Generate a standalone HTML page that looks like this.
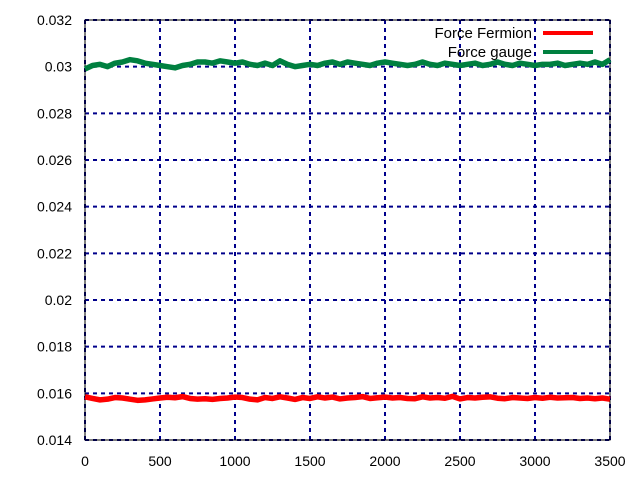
<!DOCTYPE html>
<html><head><meta charset="utf-8"><style>
body{margin:0;background:#fff;}
svg{display:block;font-family:"Liberation Sans",sans-serif;}
</style></head><body>
<svg id="chart" width="640" height="480" viewBox="0 0 640 480"></svg>
<script>
const xTicks=[0,500,1000,1500,2000,2500,3000,3500];
const yTicks=[0.014,0.016,0.018,0.02,0.022,0.024,0.026,0.028,0.03,0.032];
const yTickLabels=["0.014","0.016","0.018","0.02","0.022","0.024","0.026","0.028","0.03","0.032"];
const seriesNames=["Force Fermion","Force gauge"];
const step=50;
const fermion=[0.01585,0.01578,0.01572,0.01575,0.01582,0.01580,0.01575,0.01570,0.01572,0.01576,0.01580,0.01583,0.01581,0.01586,0.01578,0.01575,0.01577,0.01574,0.01578,0.01580,0.01584,0.01582,0.01575,0.01572,0.01582,0.01578,0.01585,0.01580,0.01574,0.01582,0.01578,0.01585,0.01580,0.01584,0.01576,0.01580,0.01582,0.01586,0.01578,0.01581,0.01584,0.01580,0.01582,0.01578,0.01577,0.01585,0.01580,0.01582,0.01579,0.01587,0.01576,0.01582,0.01580,0.01583,0.01585,0.01579,0.01577,0.01582,0.01580,0.01578,0.01582,0.01579,0.01583,0.01580,0.01581,0.01582,0.01578,0.01580,0.01577,0.01580,0.01575];
const gauge=[0.02990,0.03005,0.03010,0.03000,0.03015,0.03020,0.03030,0.03025,0.03015,0.03010,0.03005,0.03000,0.02995,0.03005,0.03010,0.03020,0.03020,0.03015,0.03025,0.03020,0.03015,0.03020,0.03010,0.03005,0.03015,0.03005,0.03025,0.03010,0.03000,0.03005,0.03010,0.03005,0.03015,0.03020,0.03010,0.03020,0.03015,0.03010,0.03005,0.03015,0.03020,0.03015,0.03010,0.03005,0.03010,0.03020,0.03010,0.03005,0.03015,0.03010,0.03005,0.03010,0.03015,0.03005,0.03010,0.03020,0.03010,0.03005,0.03015,0.03010,0.03005,0.03010,0.03010,0.03015,0.03005,0.03010,0.03015,0.03010,0.03020,0.03010,0.03030];
const L=85,R=610,T=20,B=440;
const xs=v=>L+(v-0)/3500*(R-L);
const ys=v=>B-(v-0.014)/(0.032-0.014)*(B-T);
const svg=document.getElementById('chart');
const NS='http://www.w3.org/2000/svg';
function mk(t,a){const e=document.createElementNS(NS,t);for(const k in a)e.setAttribute(k,a[k]);svg.appendChild(e);return e;}
xTicks.forEach((v,i)=>{
  const g=mk('line',{x1:xs(v),x2:xs(v),y1:T,y2:B,stroke:'#00008b','stroke-width':2,'stroke-dasharray':'4,4'});
  
  
  const t=mk('text',{x:xs(v),y:466,'text-anchor':'middle','font-size':14});
  t.textContent=v;
  
  
});
yTicks.forEach((v,i)=>{
  const g=mk('line',{x1:L,x2:R,y1:ys(v),y2:ys(v),stroke:'#00008b','stroke-width':2,'stroke-dasharray':'4,4'});
  
  
  const t=mk('text',{x:72,y:ys(v)+5,'text-anchor':'end','font-size':14});
  t.textContent=yTickLabels[i];
  
  
});
const frame=mk('rect',{x:L,y:T,width:R-L,height:B-T,fill:'none',stroke:'#000','stroke-width':1});


function line(arr,color,name){
  const p=mk('polyline',{points:arr.map((v,i)=>xs(i*step)+','+ys(v)).join(' '),fill:'none',stroke:color,'stroke-width':5.5,'stroke-linejoin':'round'});
  
  
}
line(fermion,'#ff0000','fermion-series');
line(gauge,'#008040','gauge-series');
[['#ff0000',33],['#008040',52]].forEach((c,i)=>{
  const t=mk('text',{x:532,y:c[1]+5,'text-anchor':'end','font-size':15});
  t.textContent=seriesNames[i];
  
  
  const l=mk('line',{x1:543,x2:593,y1:c[1],y2:c[1],stroke:c[0],'stroke-width':4});
  
  
});
</script>
</body></html>
